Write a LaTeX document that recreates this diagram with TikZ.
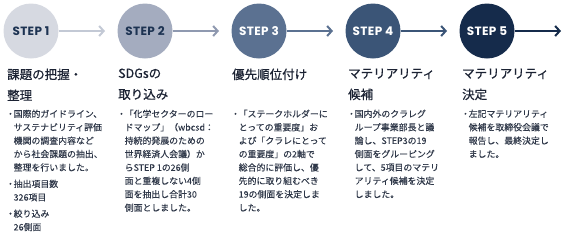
\documentclass[tikz,border=0pt]{standalone}
\usepackage{fontspec}
\setmainfont{Noto Sans CJK JP}[FakeBold=0.15]
\newfontfamily\titlefont{Noto Sans CJK JP}[FakeBold=0.6]
\newfontfamily\stepfont{Poppins}[LetterSpace=3]
\usetikzlibrary{arrows.meta}

\definecolor{navy}{HTML}{1D3352}
\definecolor{titletext}{HTML}{1B2233}
\definecolor{bodytext}{HTML}{2E3748}
\definecolor{stepA}{HTML}{D6D9E1}
\definecolor{stepAarr}{HTML}{C3C9D5}
\definecolor{stepB}{HTML}{A4ACBF}
\definecolor{stepBarr}{HTML}{8F99B0}
\definecolor{stepC}{HTML}{5B7191}
\definecolor{stepD}{HTML}{3B5577}
\definecolor{stepE}{HTML}{152B4B}

\newcommand{\stepbullet}{\makebox[6.5pt][c]{・}}
\newcommand{\stepindent}{\hspace*{6.5pt}}

\begin{document}
\begin{tikzpicture}[
    x=1pt, y=-1pt,
    stepnode/.style={circle, minimum size=55pt, inner sep=0pt,
        font=\stepfont\bfseries\fontsize{12}{14}\selectfont},
    arrow/.style={-{Straight Barb[length=4.5pt, width=10pt, line width=2pt]}, line width=2pt},
    title/.style={anchor=north west, inner sep=0pt, align=left, text=titletext,
        font=\titlefont\fontsize{12.5}{21}\selectfont},
    desc/.style={anchor=north west, inner sep=0pt, align=left, text=bodytext,
        font=\fontsize{8.9}{13.4}\selectfont}
]
\useasboundingbox (0,0) rectangle (567,236);

% Step circles
\node[stepnode, fill=stepA, text=navy] (step1) at (31,31) {STEP 1};
\node[stepnode, fill=stepB, text=navy] (step2) at (145,31) {STEP 2};
\node[stepnode, fill=stepC, text=white] (step3) at (259,31) {STEP 3};
\node[stepnode, fill=stepD, text=white] (step4) at (373,31) {STEP 4};
\node[stepnode, fill=stepE, text=white] (step5) at (487,31) {STEP 5};

% Arrow ends
\coordinate (tip1) at (105,31);
\coordinate (tip2) at (219,31);
\coordinate (tip3) at (333,31);
\coordinate (tip4) at (447,31);
\coordinate (tip5) at (561,31);

\draw[arrow, stepAarr] (step1) -- (tip1);
\draw[arrow, stepBarr] (step2) -- (tip2);
\draw[arrow, stepC] (step3) -- (tip3);
\draw[arrow, stepD] (step4) -- (tip4);
\draw[arrow, stepE] (step5) -- (tip5);

% Titles
\node[title] (title1) at (7,68.4) {課題の把握・\\整理};
\node[title] (title2) at (118,68.4) {SDGsの\\取り込み};
\node[title] (title3) at (232,68.4) {優先順位付け};
\node[title] (title4) at (348,68.4) {マテリアリティ\\候補};
\node[title] (title5) at (462,68.4) {マテリアリティ\\決定};

% Descriptions
\node[desc] (desc1) at (7,109.5) {%
\stepbullet 国際的ガイドライン、\\
\stepindent サステナビリティ評価\\
\stepindent 機関の調査内容など\\
\stepindent から社会課題の抽出、\\
\stepindent 整理を行いました。\\[3pt]
\stepbullet 抽出項目数\\
\stepindent 326項目\\[3pt]
\stepbullet 絞り込み\\
\stepindent 26側面};

\node[desc] (desc2) at (118,109.5) {%
\stepbullet 「化学セクターのロー\\
\stepindent ドマップ」（wbcsd：\\
\stepindent 持続的発展のための\\
\stepindent 世界経済人会議）か\\
\stepindent らSTEP 1の26側\\
\stepindent 面と重複しない4側\\
\stepindent 面を抽出し合計30\\
\stepindent 側面としました。};

\node[desc] (desc3) at (232,109.5) {%
\stepbullet 「ステークホルダーに\\
\stepindent とっての重要度」お\\
\stepindent よび「クラレにとって\\
\stepindent の重要度」の2軸で\\
\stepindent 総合的に評価し、優\\
\stepindent 先的に取り組むべき\\
\stepindent 19の側面を決定しま\\
\stepindent した。};

\node[desc] (desc4) at (348,109.5) {%
\stepbullet 国内外のクラレグ\\
\stepindent ループ事業部長と議\\
\stepindent 論し、STEP3の19\\
\stepindent 側面をグルーピング\\
\stepindent して、5項目のマテリ\\
\stepindent アリティ候補を決定\\
\stepindent しました。};

\node[desc] (desc5) at (462,109.5) {%
\stepbullet 左記マテリアリティ\\
\stepindent 候補を取締役会議で\\
\stepindent 報告し、最終決定し\\
\stepindent ました。};

\end{tikzpicture}
\end{document}
